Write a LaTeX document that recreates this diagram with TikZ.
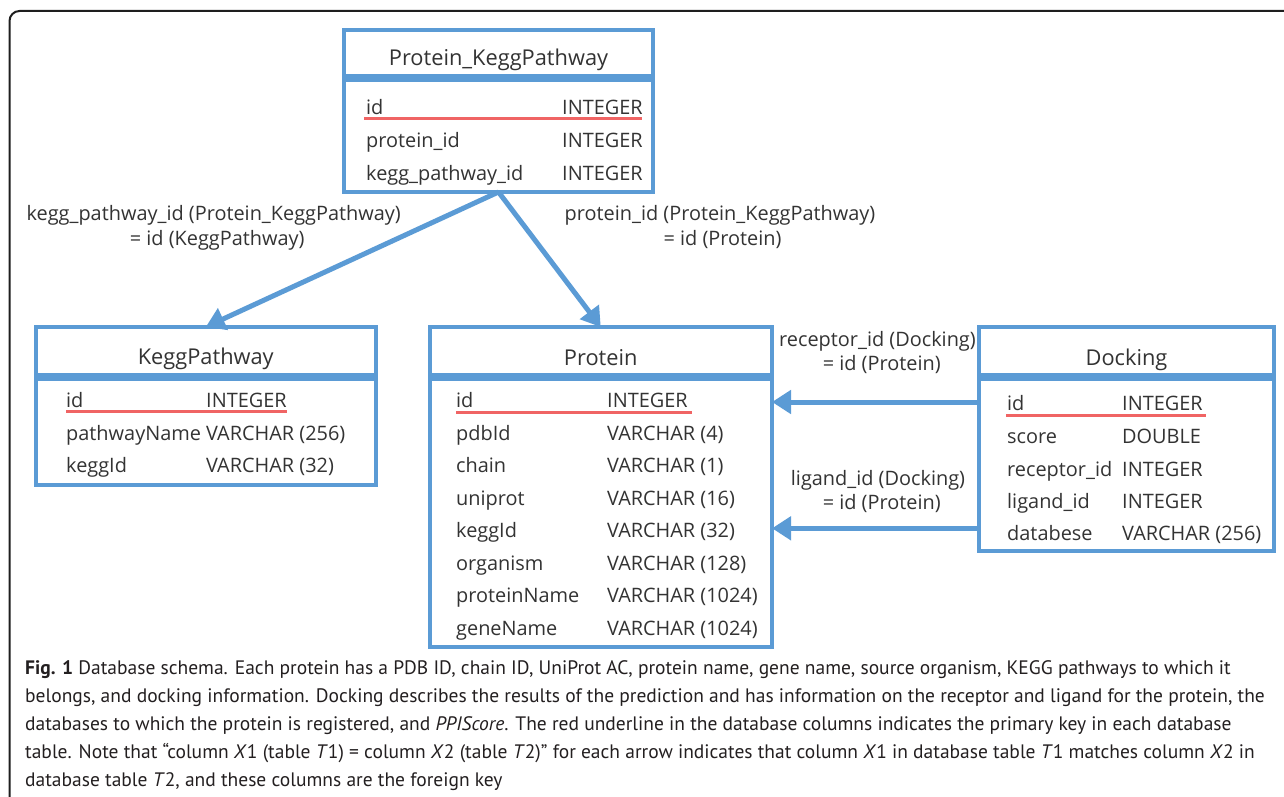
\documentclass[tikz,border=0pt]{standalone}
\usepackage{fontspec}
\setmainfont{Open Sans}
\newfontfamily\capfont{PT Sans}
\usetikzlibrary{arrows.meta}
\definecolor{tblue}{RGB}{91,155,213}
\definecolor{tred}{RGB}{240,100,100}
\definecolor{ttext}{RGB}{51,51,51}
\definecolor{captext}{RGB}{35,31,32}
\definecolor{framecol}{RGB}{30,30,30}
\begin{document}
\begin{tikzpicture}[x=1pt,y=-1pt,
  tbox/.style={draw=tblue, line width=4pt, fill=white, inner sep=0pt, outer sep=0pt, anchor=north west},
  ttl/.style={font=\fontsize{21.8}{26}\selectfont, text=ttext, inner sep=0pt, anchor=base},
  cell/.style={font=\fontsize{19.9}{24}\selectfont, text=ttext, inner sep=0pt, anchor=base west},
  lbl/.style={font=\fontsize{19.9}{24}\selectfont, text=ttext, inner sep=0pt, anchor=base},
  pkline/.style={draw=tred, line width=3pt},
  fk/.style={draw=tblue, line width=5pt, -{Triangle[length=19pt,width=23pt]}},
  capl/.style={font=\capfont\fontsize{19.5}{24}\selectfont, text=captext, inner sep=0pt, anchor=base west}]
\useasboundingbox (0,0) rectangle (1284,797);
% outer frame
\draw[framecol, line width=2pt, rounded corners=10pt] (9.5,805) -- (9.5,11) -- (1295,11);

% ---------- Protein_KeggPathway ----------
\node[tbox, minimum width=309pt, minimum height=46pt] (pkh) at (344,30) {};
\node[tbox, minimum width=309pt, minimum height=111.5pt] (pkb) at (344,80.5) {};
\node[ttl] (pkt) at (pkh.center |- 0,65.7) {Protein\_KeggPathway};
\node[cell] (pk1a) at (366,115) {id};
\node[cell] (pk1b) at (562,115) {INTEGER};
\node[cell] (pk2a) at (366,147.5) {protein\_id};
\node[cell] (pk2b) at (562,147.5) {INTEGER};
\node[cell] (pk3a) at (366,180) {kegg\_pathway\_id};
\node[cell] (pk3b) at (562,180) {INTEGER};
\draw[pkline] (364,118.5) -- (642,118.5);

% ---------- KeggPathway ----------
\node[tbox, minimum width=340.5pt, minimum height=47.5pt] (kh) at (35.5,327) {};
\node[tbox, minimum width=340.5pt, minimum height=106pt] (kb) at (35.5,379) {};
\node[ttl] (kt) at (kh.center |- 0,364.5) {KeggPathway};
\node[cell] (k1a) at (66,407.3) {id};
\node[cell] (k1b) at (206,407.3) {INTEGER};
\node[cell] (k2a) at (66,440) {pathwayName};
\node[cell] (k2b) at (206,440) {VARCHAR (256)};
\node[cell] (k3a) at (66,472.7) {keggId};
\node[cell] (k3b) at (206,472.7) {VARCHAR (32)};
\draw[pkline] (66,411.5) -- (287,411.5);

% ---------- Protein ----------
\node[tbox, minimum width=342.5pt, minimum height=47.5pt] (ph) at (429.5,327) {};
\node[tbox, minimum width=342.5pt, minimum height=267.5pt] (pb) at (429.5,379) {};
\node[ttl] (pt) at (ph.center |- 0,365) {Protein};
\node[cell] (p1a) at (456,407.3) {id};
\node[cell] (p1b) at (607,407.3) {INTEGER};
\node[cell] (p2a) at (456,440) {pdbId};
\node[cell] (p2b) at (607,440) {VARCHAR (4)};
\node[cell] (p3a) at (456,472.7) {chain};
\node[cell] (p3b) at (607,472.7) {VARCHAR (1)};
\node[cell] (p4a) at (456,505) {uniprot};
\node[cell] (p4b) at (607,505) {VARCHAR (16)};
\node[cell] (p5a) at (456,537.3) {keggId};
\node[cell] (p5b) at (607,537.3) {VARCHAR (32)};
\node[cell] (p6a) at (456,570) {organism};
\node[cell] (p6b) at (607,570) {VARCHAR (128)};
\node[cell] (p7a) at (456,602.7) {proteinName};
\node[cell] (p7b) at (607,602.7) {VARCHAR (1024)};
\node[cell] (p8a) at (456,635) {geneName};
\node[cell] (p8b) at (607,635) {VARCHAR (1024)};
\draw[pkline] (456,412) -- (692,412);

% ---------- Docking ----------
\node[tbox, minimum width=295pt, minimum height=47.5pt] (dh) at (979,327) {};
\node[tbox, minimum width=295pt, minimum height=172pt] (db) at (979,379) {};
\node[ttl] (dt) at (dh.center |- 0,365) {Docking};
\node[cell] (d1a) at (1007,410.7) {id};
\node[cell] (d1b) at (1122,410.7) {INTEGER};
\node[cell] (d2a) at (1007,443.3) {score};
\node[cell] (d2b) at (1122,443.3) {DOUBLE};
\node[cell] (d3a) at (1007,476) {receptor\_id};
\node[cell] (d3b) at (1122,476) {INTEGER};
\node[cell] (d4a) at (1007,508.3) {ligand\_id};
\node[cell] (d4b) at (1122,508.3) {INTEGER};
\node[cell] (d5a) at (1007,540.7) {databese};
\node[cell] (d5b) at (1122,540.7) {VARCHAR (256)};
\draw[pkline] (1006,415) -- (1206,415);

% ---------- connectors ----------
\draw[fk] (pkb.south) -- (kh.north);
\draw[fk] (pkb.south) -- (ph.north);
\draw[fk] (db.west |- 0,402) -- (pb.east |- 0,402);
\draw[fk] (db.west |- 0,528.3) -- (pb.east |- 0,528.3);

% ---------- connector labels ----------
\node[lbl] (l1a) at (213.7,220.7) {kegg\_pathway\_id (Protein\_KeggPathway)};
\node[lbl] (l1b) at (217.2,245) {= id (KeggPathway)};
\node[lbl] (l2a) at (720,220.7) {protein\_id (Protein\_KeggPathway)};
\node[lbl] (l2b) at (722.5,245) {= id (Protein)};
\node[lbl] (l3a) at (877.5,346) {receptor\_id (Docking)};
\node[lbl] (l3b) at (881.7,370.7) {= id (Protein)};
\node[lbl] (l4a) at (878,485) {ligand\_id (Docking)};
\node[lbl] (l4b) at (881.7,509.3) {= id (Protein)};

% ---------- caption ----------
\node[capl] (c1) at (25,674) {\textbf{Fig. 1} Database schema. Each protein has a PDB ID, chain ID, UniProt AC, protein name, gene name, source organism, KEGG pathways to which it};
\node[capl] (c2) at (25,702) {belongs, and docking information. Docking describes the results of the prediction and has information on the receptor and ligand for the protein, the};
\node[capl] (c3) at (25,730) {databases to which the protein is registered, and \textit{PPIScore}. The red underline in the database columns indicates the primary key in each database};
\node[capl] (c4) at (25,758) {table. Note that “column \textit{X}1 (table \textit{T}1) = column \textit{X}2 (table \textit{T}2)” for each arrow indicates that column \textit{X}1 in database table \textit{T}1 matches column \textit{X}2 in};
\node[capl] (c5) at (25,786) {database table \textit{T}2, and these columns are the foreign key};
\end{tikzpicture}
\end{document}
